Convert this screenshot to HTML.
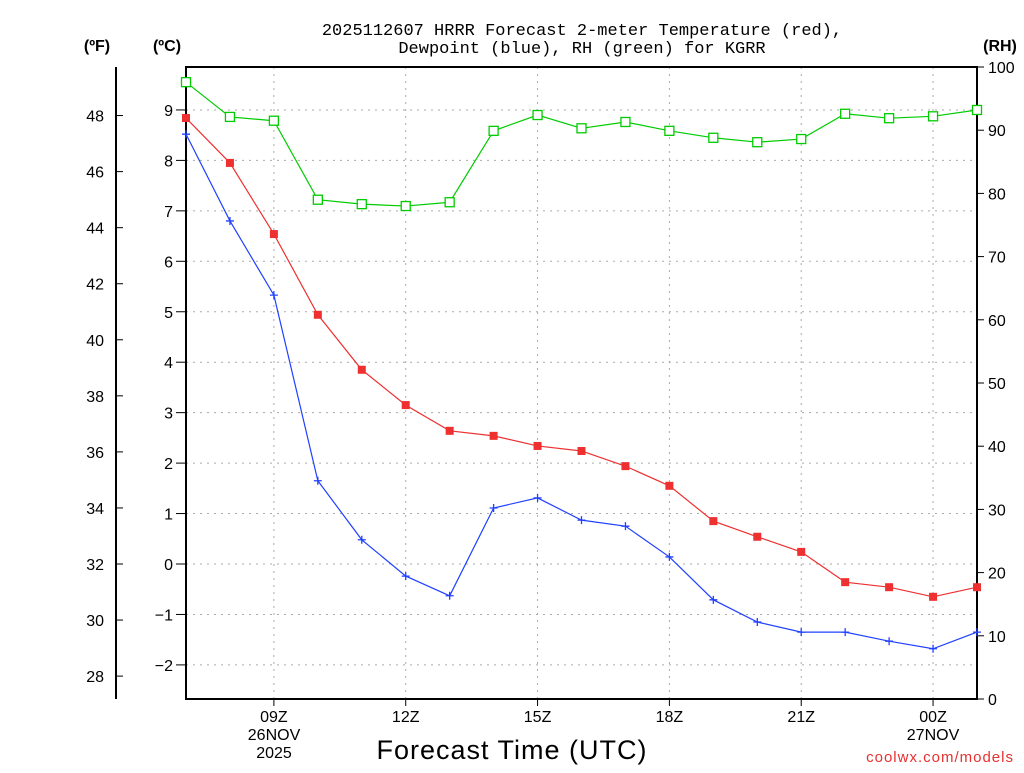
<!DOCTYPE html>
<html><head><meta charset="utf-8"><style>
body{margin:0;background:#fff;}
svg text{font-family:"Liberation Sans",sans-serif;}
svg text.mono{font-family:"Liberation Mono",monospace;}
</style></head><body>
<svg id="c" width="1024" height="768" xmlns="http://www.w3.org/2000/svg">
<text class="mono" x="582" y="35" text-anchor="middle" font-size="17">2025112607 HRRR Forecast 2-meter Temperature (red),</text>
<text class="mono" x="582" y="53" text-anchor="middle" font-size="17">Dewpoint (blue), RH (green) for KGRR</text>
<text x="97" y="51" text-anchor="middle" font-size="16" font-weight="bold">(ºF)</text>
<text x="167" y="51" text-anchor="middle" font-size="16" font-weight="bold">(ºC)</text>
<text x="1000" y="51" text-anchor="middle" font-size="16" font-weight="bold">(RH)</text>
<text x="512" y="759" text-anchor="middle" font-size="27" letter-spacing="1">Forecast Time (UTC)</text>
<text x="1014" y="762" text-anchor="end" font-size="15" fill="#e83030" letter-spacing="1">coolwx.com/models</text>
<g id="grid"></g><g id="axes"></g><g id="series"></g>
</svg>
<script>
const hours=[7,8,9,10,11,12,13,14,15,16,17,18,19,20,21,22,23,24,25];
const tempC=[8.84,7.95,6.54,4.94,3.85,3.15,2.64,2.54,2.34,2.24,1.94,1.55,0.85,0.54,0.24,-0.36,-0.46,-0.65,-0.46];
const dewC=[8.52,6.80,5.33,1.65,0.48,-0.24,-0.63,1.11,1.31,0.87,0.75,0.14,-0.71,-1.15,-1.35,-1.35,-1.53,-1.68,-1.35];
const rh=[97.6,92.1,91.5,79.0,78.3,78.0,78.6,89.9,92.4,90.3,91.3,89.9,88.8,88.1,88.6,92.6,91.9,92.2,93.2];
const cTicks=[9,8,7,6,5,4,3,2,1,0,-1,-2];
const fTicks=[48,46,44,42,40,38,36,34,32,30,28];
const rhTicks=[0,10,20,30,40,50,60,70,80,90,100];
const xTickHours=[9,12,15,18,21,24];
const xTickLabels=["09Z","12Z","15Z","18Z","21Z","00Z"];
const x0=186,x1=977,y0=67,y1=699;
const xs=h=>x0+(h-7)*(x1-x0)/18;
const yc=c=>564-c*50.45;
const yf=f=>yc((f-32)*5/9);
const yr=r=>y1-r*(y1-y0)/100;
const NS="http://www.w3.org/2000/svg";
function mk(parent,tag,attrs){const e=document.createElementNS(NS,tag);for(const k in attrs)e.setAttribute(k,attrs[k]);document.getElementById(parent).appendChild(e);return e;}
cTicks.forEach(c=>{const e=mk('grid','line',{x1:x0,x2:x1,y1:yc(c),y2:yc(c),stroke:'#aaa','stroke-dasharray':'2,5'});

});
xTickHours.forEach(h=>{const e=mk('grid','line',{x1:xs(h),x2:xs(h),y1:y0,y2:y1,stroke:'#aaa','stroke-dasharray':'2,5'});

});
let fr=mk('axes','rect',{x:x0,y:y0,width:x1-x0,height:y1-y0,fill:'none',stroke:'#000','stroke-width':2});


let fl=mk('axes','line',{x1:116,x2:116,y1:y0,y2:y1,stroke:'#000','stroke-width':2});


cTicks.forEach(c=>{mk('axes','line',{x1:176,x2:x0,y1:yc(c),y2:yc(c),stroke:'#000'});
const t=mk('axes','text',{x:173,y:yc(c)+6,'text-anchor':'end','font-size':16});t.textContent=(c<0?'\u2212'+(-c):c);

});
fTicks.forEach(f=>{mk('axes','line',{x1:116,x2:123,y1:yf(f),y2:yf(f),stroke:'#000'});
const t=mk('axes','text',{x:104,y:yf(f)+6,'text-anchor':'end','font-size':16});t.textContent=f;

});
rhTicks.forEach(r=>{mk('axes','line',{x1:x1,x2:x1+7,y1:yr(r),y2:yr(r),stroke:'#000'});
const t=mk('axes','text',{x:988,y:yr(r)+6,'font-size':16});t.textContent=r;

});
xTickHours.forEach((h,i)=>{mk('axes','line',{x1:xs(h),x2:xs(h),y1:y1,y2:y1+7,stroke:'#000'});
const t=mk('axes','text',{x:xs(h),y:722,'text-anchor':'middle','font-size':16});t.textContent=xTickLabels[i];

});
[["26NOV",274,740],["2025",274,758],["27NOV",933,740]].forEach(d=>{const t=mk('axes','text',{x:d[1],y:d[2],'text-anchor':'middle','font-size':16});t.textContent=d[0];

});
function line(vals,yfn,color,name){const pts=vals.map((v,i)=>xs(hours[i])+','+yfn(v)).join(' ');
const p=mk('series','polyline',{points:pts,fill:'none',stroke:color,'stroke-width':1.2});

}
line(rh,yr,'#00cc00','rh-line');
line(tempC,yc,'#ee3030','temperature-line');
line(dewC,yc,'#2040ff','dewpoint-line');
rh.forEach((v,i)=>{const e=mk('series','rect',{x:xs(hours[i])-4.5,y:yr(v)-4.5,width:9,height:9,fill:'#fff',stroke:'#00cc00','stroke-width':1.3});

});
tempC.forEach((v,i)=>{const e=mk('series','rect',{x:xs(hours[i])-4,y:yc(v)-4,width:8,height:8,fill:'#ee3030'});

});
dewC.forEach((v,i)=>{const x=xs(hours[i]),y=yc(v);const e=mk('series','path',{d:`M${x-4},${y}H${x+4}M${x},${y-4}V${y+4}`,stroke:'#2040ff','stroke-width':1.3});

});
</script>
</body></html>
